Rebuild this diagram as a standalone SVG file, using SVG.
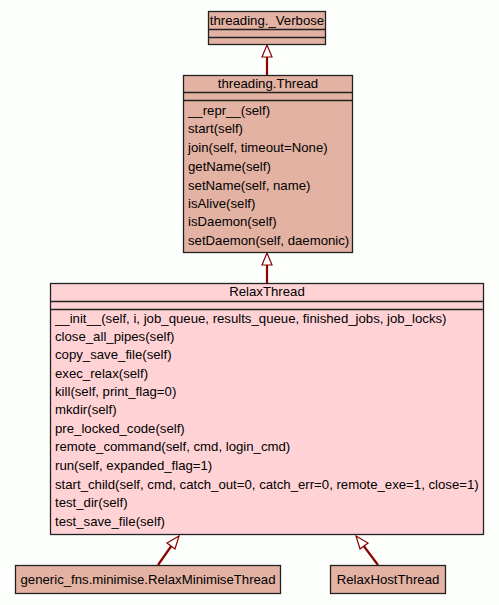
<svg xmlns="http://www.w3.org/2000/svg" width="499" height="605" viewBox="0 0 499 605">
<defs>
<style>
text{font-family:"Liberation Sans",Arial,sans-serif;font-size:13.2px;fill:#000}
.box{stroke:#222;stroke-width:1.3}
.a{fill:#e3b2a3}
.b{fill:#ffd3d6}
.sep{stroke:#222;stroke-width:1.3}
.edge{stroke:#8b0000;stroke-width:2.2;fill:none}
.head{fill:#fff;stroke:#8b0000;stroke-width:1.2}
.c{text-anchor:middle}
</style>
</defs>
<rect width="499" height="605" fill="#fcfffc"/>
<g id="connectors">
<line class="edge" x1="267" y1="75" x2="267" y2="57"/>
<polygon class="head" points="267,45 262,57 272,57"/>
<line class="edge" x1="267" y1="283" x2="267" y2="265"/>
<polygon class="head" points="267,253 262,265 272,265"/>
<line class="edge" x1="158" y1="565" x2="172" y2="545"/>
<polygon class="head" points="179,536 167,543 175,549"/>
<line class="edge" x1="378" y1="565" x2="363" y2="545"/>
<polygon class="head" points="356,536 360,549 368,543"/>
</g>
<g id="verbose">
<rect class="box a" x="208.5" y="11.5" width="117" height="33"/>
<line class="sep" x1="208.5" y1="29.5" x2="325.5" y2="29.5"/>
<line class="sep" x1="208.5" y1="37.5" x2="325.5" y2="37.5"/>
<text class="c" x="267" y="25">threading._Verbose</text>
</g>
<g id="thread">
<rect class="box a" x="183.5" y="75.5" width="169" height="177"/>
<line class="sep" x1="183.5" y1="92.5" x2="352.5" y2="92.5"/>
<line class="sep" x1="183.5" y1="100.5" x2="352.5" y2="100.5"/>
<text class="c" x="268" y="88">threading.Thread</text>
<text x="188" y="115">__repr__(self)</text>
<text x="188" y="133">start(self)</text>
<text x="188" y="152">join(self, timeout=None)</text>
<text x="188" y="171">getName(self)</text>
<text x="188" y="190">setName(self, name)</text>
<text x="188" y="208">isAlive(self)</text>
<text x="188" y="226">isDaemon(self)</text>
<text x="188" y="245">setDaemon(self, daemonic)</text>
</g>
<g id="relaxthread">
<rect class="box b" x="50.5" y="283.5" width="433" height="251"/>
<line class="sep" x1="50.5" y1="301.5" x2="483.5" y2="301.5"/>
<line class="sep" x1="50.5" y1="309.5" x2="483.5" y2="309.5"/>
<text class="c" x="267" y="296">RelaxThread</text>
<text x="55" y="323">__init__(self, i, job_queue, results_queue, finished_jobs, job_locks)</text>
<text x="55" y="341">close_all_pipes(self)</text>
<text x="55" y="359">copy_save_file(self)</text>
<text x="55" y="378">exec_relax(self)</text>
<text x="55" y="396">kill(self, print_flag=0)</text>
<text x="55" y="414">mkdir(self)</text>
<text x="55" y="433">pre_locked_code(self)</text>
<text x="55" y="451">remote_command(self, cmd, login_cmd)</text>
<text x="55" y="470">run(self, expanded_flag=1)</text>
<text x="55" y="489">start_child(self, cmd, catch_out=0, catch_err=0, remote_exe=1, close=1)</text>
<text x="55" y="507">test_dir(self)</text>
<text x="55" y="526">test_save_file(self)</text>
</g>
<g id="minimise">
<rect class="box a" x="15.5" y="565.5" width="265" height="28"/>
<text class="c" x="148" y="584">generic_fns.minimise.RelaxMinimiseThread</text>
</g>
<g id="relaxhost">
<rect class="box a" x="330.5" y="565.5" width="115" height="28"/>
<text class="c" x="388" y="584">RelaxHostThread</text>
</g>
</svg>
